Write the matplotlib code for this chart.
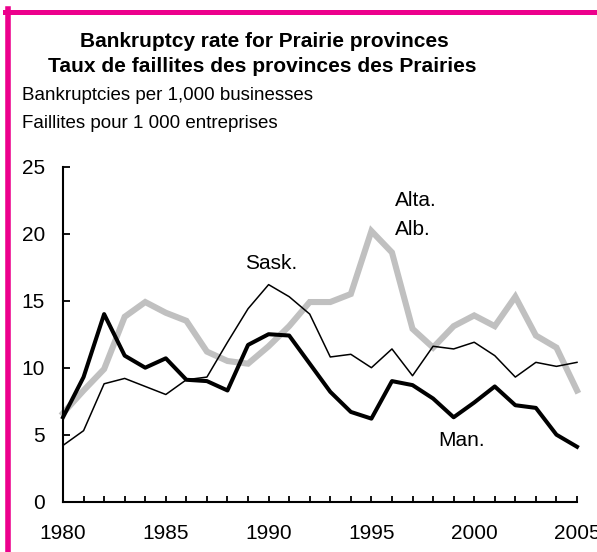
import matplotlib
matplotlib.use('Agg')
import matplotlib.pyplot as plt
from matplotlib.lines import Line2D
from matplotlib.ticker import MultipleLocator

plt.rcParams['font.family'] = ['Liberation Sans', 'DejaVu Sans']

years = list(range(1980, 2006))
sask = [4.2, 5.3, 8.8, 9.2, 8.6, 8.0, 9.1, 9.3, 11.9, 14.4, 16.2, 15.3, 14.0,
        10.8, 11.0, 10.0, 11.4, 9.4, 11.6, 11.4, 11.9, 10.9, 9.3, 10.4, 10.1, 10.4]
alta = [6.6, 8.3, 9.9, 13.8, 14.9, 14.1, 13.5, 11.2, 10.5, 10.3, 11.6, 13.1, 14.9,
        14.9, 15.5, 20.2, 18.6, 12.9, 11.5, 13.1, 13.9, 13.1, 15.3, 12.4, 11.5, 8.3]
man = [6.3, 9.3, 14.0, 10.9, 10.0, 10.7, 9.1, 9.0, 8.3, 11.7, 12.5, 12.4, 10.3,
       8.2, 6.7, 6.2, 9.0, 8.7, 7.7, 6.3, 7.4, 8.6, 7.2, 7.0, 5.0, 4.1]

title_lines = ["Bankruptcy rate for Prairie provinces",
               "Taux de faillites des provinces des Prairies"]
subtitle_lines = ["Bankruptcies per 1,000 businesses",
                  "Faillites pour 1 000 entreprises"]
x_ticks = [1980, 1985, 1990, 1995, 2000, 2005]
y_ticks = [0, 5, 10, 15, 20, 25]

W, H = 597, 552
fig = plt.figure(figsize=(W / 100, H / 100), dpi=100)
fig.patch.set_facecolor('white')

def fx(px):
    return px / W

def fy(py):
    return 1 - py / H

ax = fig.add_axes([fx(63), fy(501.7), fx(577) - fx(63), fy(166.7) - fy(501.7)])
ax.set_xlim(1980, 2005)
ax.set_ylim(0, 25)

ax.plot(years, alta, color='#c0c0c0', lw=4.4, solid_joinstyle='miter', zorder=2, clip_on=False)
ax.plot(years, sask, color='black', lw=1.1, zorder=3, clip_on=False)
ax.plot(years, man, color='black', lw=2.9, zorder=4, clip_on=False)

for s in ['top', 'right']:
    ax.spines[s].set_visible(False)
for s in ['left', 'bottom']:
    ax.spines[s].set_linewidth(1.5)

ax.set_xticks(x_ticks)
ax.set_xticklabels([str(v) for v in x_ticks])
ax.xaxis.set_minor_locator(MultipleLocator(1))
ax.set_yticks(y_ticks)
ax.set_yticklabels([str(v) for v in y_ticks])
ax.tick_params(axis='x', which='both', direction='in', length=4.5, width=1.3, pad=16, labelsize=15)
ax.tick_params(axis='y', which='major', direction='in', length=5, width=1.3, pad=13, labelsize=15)

ax.text(1988.85, 17.34, "Sask.", fontsize=15, ha='left', va='baseline')
ax.text(1996.15, 22.07, "Alta.", fontsize=15, ha='left', va='baseline')
ax.text(1996.15, 19.88, "Alb.", fontsize=15, ha='left', va='baseline')
ax.text(1998.24, 4.16, "Man.", fontsize=15, ha='left', va='baseline')

fig.text(fx(264), fy(47), title_lines[0], fontsize=15, fontweight='bold', ha='center', va='baseline')
fig.text(fx(262), fy(72), title_lines[1], fontsize=15.1, fontweight='bold', ha='center', va='baseline')
fig.text(fx(22), fy(100), subtitle_lines[0], fontsize=13.5, ha='left', va='baseline')
fig.text(fx(22), fy(128), subtitle_lines[1], fontsize=13.5, ha='left', va='baseline')

magenta = '#ec008c'
fig.add_artist(Line2D([fx(8), fx(8)], [fy(9), fy(560)], color=magenta, lw=4.0, transform=fig.transFigure))
fig.add_artist(Line2D([fx(5.2), fx(600)], [fy(11.5), fy(11.5)], color=magenta, lw=3.6, transform=fig.transFigure))

fig.savefig('out.png', dpi=100, facecolor='white')
